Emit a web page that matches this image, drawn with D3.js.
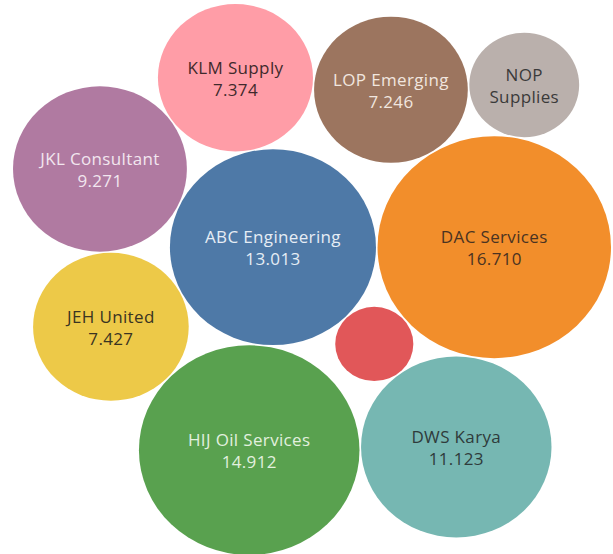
<!DOCTYPE html>
<html><head><meta charset="utf-8">
<script src="https://cdn.jsdelivr.net/npm/d3@7"></script>
<style>html,body{margin:0;padding:0;background:#fff;} svg{display:block;}</style>
</head><body>
<svg id="chart" width="613" height="554"></svg>
<script>
// ---- data ----
const names  = ["ABC Engineering","DAC Services","Other","DWS Karya","HIJ Oil Services","JEH United","JKL Consultant","KLM Supply","LOP Emerging","NOP Supplies"];
const values = [13.013, 16.710, 1.87, 11.123, 14.912, 7.427, 9.271, 7.374, 7.246, 3.70];
const colors = ["#4e79a7","#f28e2b","#e15759","#76b7b2","#59a14f","#edc948","#b07aa1","#ff9da7","#9c755f","#bab0ac"];
const textColors = ["#e6edf5","#4a3322","#ffffff","#2f3b3b","#e2f0df","#3a3422","#f2e6ef","#3f2a2c","#f1e6df","#3a3a3a"];
// packing topology: each bubble is placed tangent to two earlier bubbles (indices)
const touches = [null, [0], [0,1], [2,1], [0,3], [0,4], [0,5], [0,6], [1,7], [1,8]];

// ---- layout ----
const svg = d3.select("#chart");
const rScale = d3.scaleSqrt().domain([0, d3.max(values)]).range([0, 110.5]);
const gap = 1.5;
const nodes = names.map((n, i) => ({ name: n, value: values[i], color: colors[i], tc: textColors[i], r: rScale(values[i]) }));

nodes[0].x = 0; nodes[0].y = 0;
nodes[1].x = nodes[0].r + nodes[1].r + gap; nodes[1].y = 0;
function place(A, B, c) {
  const dx = B.x - A.x, dy = B.y - A.y, d = Math.hypot(dx, dy);
  const a = A.r + c.r + gap, b = B.r + c.r + gap;
  const x = (d * d + a * a - b * b) / (2 * d);
  const h = Math.sqrt(Math.max(0, a * a - x * x));
  const ux = dx / d, uy = dy / d;
  c.x = A.x + x * ux - h * uy;
  c.y = A.y + x * uy + h * ux;
}
for (let i = 2; i < nodes.length; i++) {
  const [a, b] = touches[i];
  place(nodes[a], nodes[b], nodes[i]);
}

const minX = d3.min(nodes, d => d.x - d.r), maxX = d3.max(nodes, d => d.x + d.r);
const minY = d3.min(nodes, d => d.y - d.r), maxY = d3.max(nodes, d => d.y + d.r);
const x = d3.scaleLinear().domain([minX, maxX]).range([13, 611]);
const y = d3.scaleLinear().domain([minY, maxY]).range([4, 555]);
const kx = (611 - 13) / (maxX - minX);
const ky = (555 - 4) / (maxY - minY);

const fmt = d3.format(".3f");
const g = svg.append("g");
const bub = g.selectAll("g.bubble").data(nodes).join("g").attr("class", "bubble")
  .attr("transform", d => `translate(${x(d.x)},${y(d.y)})`);

bub.append("ellipse")
  .attr("rx", d => d.r * kx)
  .attr("ry", d => d.r * ky)
  .attr("fill", d => d.color);

bub.each(function (d) {
  const sel = d3.select(this);
  let lines = [];
  if (d.r >= 70) lines = [d.name, fmt(d.value)];
  else if (d.r >= 45) lines = d.name.split(" ");
  const offsets = [-4, 18];
  lines.forEach((t, i) => {
    sel.append("text")
      .attr("x", 0)
      .attr("y", offsets[i])
      .attr("text-anchor", "middle")
      .attr("font-family", "'Open Sans', 'Noto Sans', sans-serif")
      .attr("font-size", 17)
      .attr("letter-spacing", 0.35)
      .attr("fill", d.tc)
      .text(t);
  });
});
</script>
</body></html>
